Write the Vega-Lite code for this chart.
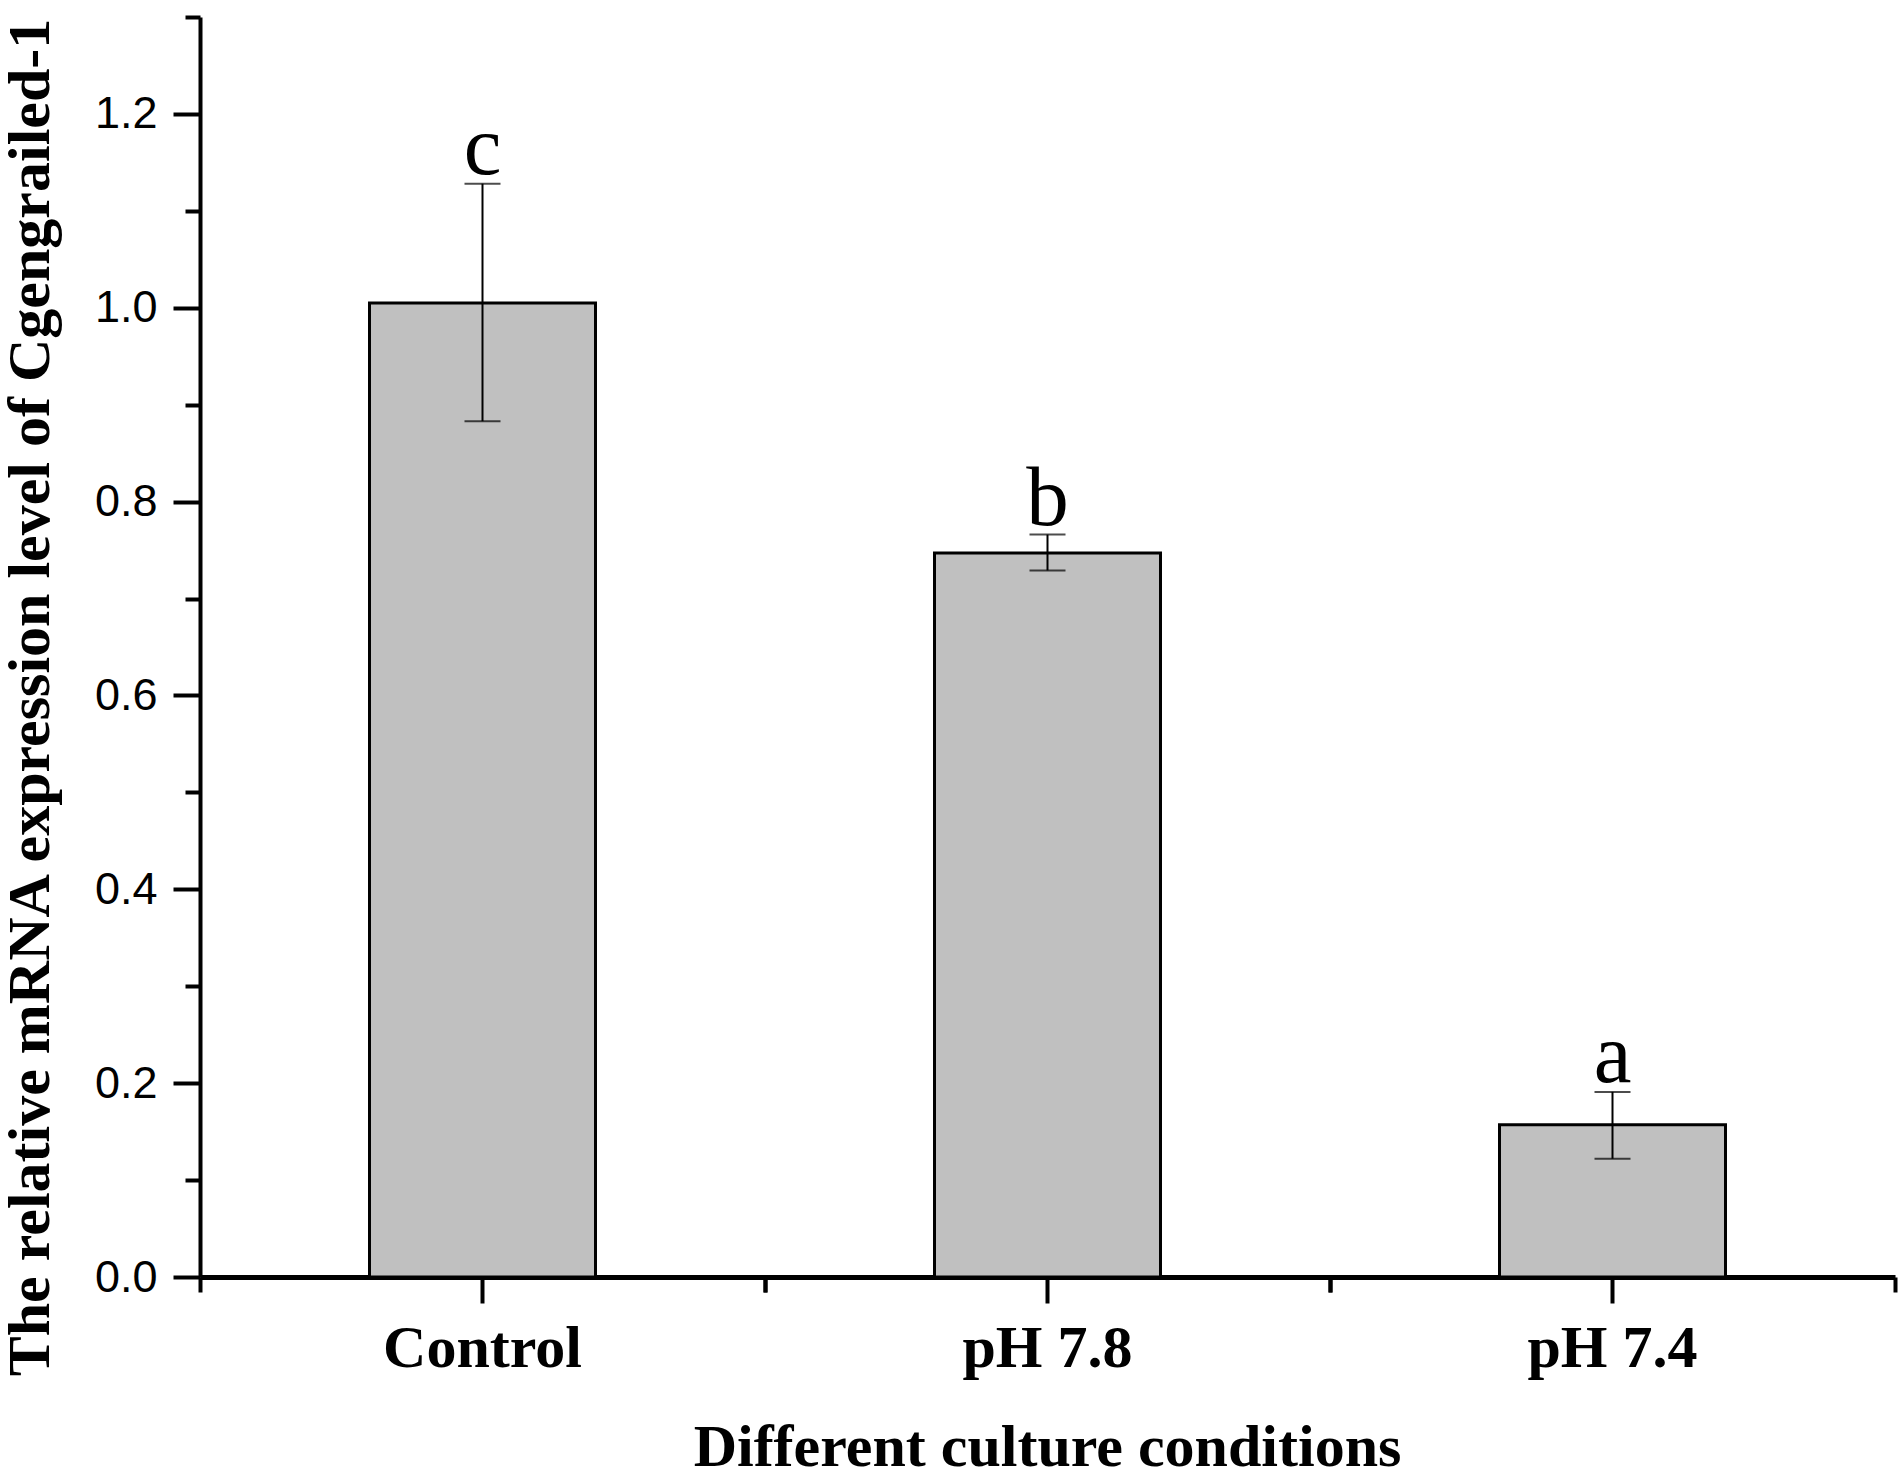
{
  "$schema": "https://vega.github.io/schema/vega-lite/v6.json",
  "width": 1695,
  "height": 1260,
  "autosize": {"type": "none"},
  "padding": {"left": 200, "top": 17, "right": 6, "bottom": 199},
  "background": "white",
  "config": {
    "view": {"stroke": null},
    "axis": {"grid": false, "domainColor": "black", "tickColor": "black", "labelColor": "black", "titleColor": "black"}
  },
  "data": {
    "values": [
      {"condition": "Control", "mean": 1.005, "lo": 0.883, "hi": 1.128, "letter": "c"},
      {"condition": "pH 7.8", "mean": 0.747, "lo": 0.729, "hi": 0.766, "letter": "b"},
      {"condition": "pH 7.4", "mean": 0.157, "lo": 0.122, "hi": 0.191, "letter": "a"}
    ]
  },
  "layer": [
    {
      "mark": {"type": "bar", "width": {"band": 0.4}, "fill": "#c0c0c0", "stroke": "black", "strokeWidth": 3},
      "encoding": {
        "x": {
          "field": "condition", "type": "nominal", "sort": null,
          "scale": {"paddingInner": 0, "paddingOuter": 0},
          "axis": {
            "orient": "bottom", "labelAngle": 0, "domainWidth": 5, "tickSize": 26, "tickWidth": 4,
            "labelFont": "Liberation Serif", "labelFontWeight": "bold", "labelFontSize": 60,
            "labelBaseline": "alphabetic", "labelPadding": 63, "labelLimit": 0,
            "title": "Different culture conditions", "titleFont": "Liberation Serif", "titleFontWeight": "bold",
            "titleFontSize": 60, "titleBaseline": "alphabetic", "titleX": 847, "titleY": 188, "titleAlign": "center"
          }
        },
        "y": {
          "field": "mean", "type": "quantitative",
          "scale": {"domain": [0, 1.3], "nice": false},
          "axis": {
            "orient": "left", "values": [0, 0.2, 0.4, 0.6, 0.8, 1.0, 1.2], "format": ".1f",
            "domainWidth": 4, "tickSize": 27, "tickWidth": 4,
            "labelFont": "Liberation Sans", "labelFontSize": 45, "labelPadding": 16,
            "title": "The relative mRNA expression level of Cgengrailed-1",
            "titleFont": "Liberation Serif", "titleFontWeight": "bold", "titleFontSize": 60, "titleLimit": 0,
            "titleAngle": -90, "titleAlign": "center", "titleBaseline": "alphabetic",
            "titleX": -152, "titleY": 680
          }
        }
      }
    },
    {
      "mark": {"type": "rule", "color": "black", "strokeWidth": 2},
      "encoding": {
        "x": {
          "field": "condition", "type": "nominal", "sort": null,
          "axis": {"orient": "bottom", "bandPosition": 0, "labels": false, "domain": false, "tickSize": 15, "tickWidth": 4, "title": null}
        },
        "y": {
          "field": "lo", "type": "quantitative",
          "axis": {"orient": "left", "values": [0.1, 0.3, 0.5, 0.7, 0.9, 1.1, 1.3], "labels": false, "domain": false, "tickSize": 15, "tickWidth": 4, "title": null}
        },
        "y2": {"field": "hi"}
      }
    },
    {
      "mark": {"type": "tick", "color": "black", "thickness": 2, "size": 36, "orient": "horizontal"},
      "encoding": {
        "x": {
          "field": "condition", "type": "nominal", "sort": null,
          "axis": {"orient": "bottom", "bandPosition": 1, "labels": false, "domain": false, "tickSize": 15, "tickWidth": 4, "title": null}
        },
        "y": {"field": "lo", "type": "quantitative", "axis": null}
      }
    },
    {
      "mark": {"type": "tick", "color": "black", "thickness": 2, "size": 36, "orient": "horizontal"},
      "encoding": {
        "x": {"field": "condition", "type": "nominal", "sort": null, "axis": null},
        "y": {"field": "hi", "type": "quantitative", "axis": null}
      }
    },
    {
      "mark": {"type": "text", "font": "Liberation Serif", "fontSize": 85, "color": "black", "baseline": "alphabetic", "dy": -10},
      "encoding": {
        "x": {"field": "condition", "type": "nominal", "sort": null, "axis": null},
        "y": {"field": "hi", "type": "quantitative", "axis": null},
        "text": {"field": "letter"}
      }
    }
  ],
  "resolve": {"axis": {"x": "independent", "y": "independent"}}
}
